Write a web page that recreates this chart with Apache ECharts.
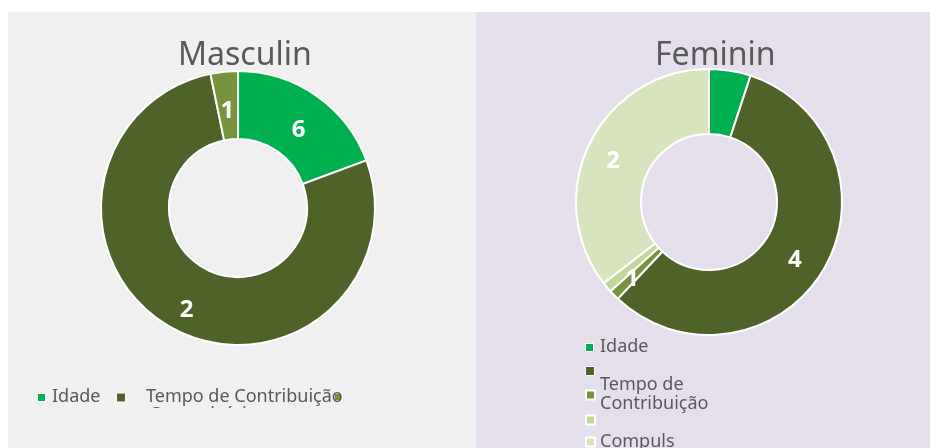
<!DOCTYPE html>
<html>
<head>
<meta charset="utf-8">
<script src="https://cdn.jsdelivr.net/npm/echarts@6/dist/echarts.min.js"></script>
<style>
  html, body { margin: 0; padding: 0; background: #fff; }
  #chart { width: 930px; height: 448px; }
</style>
</head>
<body>
<div id="chart"></div>
<script>
'use strict';

const maleCategories = ['Idade', 'Tempo de Contribuição', 'Compulsória'];
const maleValues = [6, 24, 1];
const femaleCategories = ['Idade', 'Tempo de Contribuição', 'Compulsória', 'Invalidez', 'Especial'];
const femaleValues = [4, 45, 1, 1, 28];
const sliceColors = ['#00b050', '#4f6228', '#77933c', '#c3d69b', '#d7e4bd'];

const font = 'Noto Sans';
const gray = '#595959';

function makeData(cats, vals, hideLabel) {
  return cats.map((c, i) => {
    const d = { name: c, value: vals[i], itemStyle: { color: sliceColors[i] } };
    if (hideLabel.indexOf(i) >= 0) {
      d.label = { show: false };
    }
    return d;
  });
}

function makePie(center, radius, data, offset) {
  return {
    type: 'pie',
    center: center,
    radius: radius,
    startAngle: 90,
    clockwise: true,
    animation: false,
    silent: true,
    itemStyle: { borderColor: '#fff', borderWidth: 2 },
    label: {
      show: true,
      position: 'inside',
      formatter: '{c}',
      color: '#fff',
      fontFamily: font,
      fontWeight: 'bold',
      fontSize: 24,
      width: 16,
      overflow: 'truncate',
      ellipsis: '',
      offset: offset
    },
    labelLine: { show: false },
    emphasis: { disabled: true },
    data: data
  };
}

// marker only (text kept blank, box = marker)
function legendIcon(name, left, centerY, size, border) {
  return {
    data: [name],
    left: left,
    top: centerY - size / 2,
    padding: 0,
    icon: 'rect',
    itemWidth: size,
    itemHeight: size,
    selectedMode: false,
    itemStyle: { borderColor: '#fff', borderWidth: border },
    formatter: ' ',
    textStyle: { fontSize: 1, lineHeight: size }
  };
}

// text only (invisible marker), placed where the office legend put it
function legendText(name, left, centerY, lines, opt) {
  const lg = {
    data: [name],
    left: left - 6,
    top: centerY - lines * 19 / 2,
    padding: 0,
    icon: 'rect',
    itemWidth: 1,
    itemHeight: 1,
    selectedMode: false,
    itemStyle: { opacity: 0 },
    textStyle: { fontFamily: font, fontSize: 18, color: gray, lineHeight: 19 }
  };
  if (opt && opt.text) lg.formatter = opt.text;
  if (opt && opt.width) {
    lg.textStyle.width = opt.width;
    lg.textStyle.overflow = 'truncate';
    lg.textStyle.ellipsis = '';
  }
  return lg;
}

const chart = echarts.init(document.getElementById('chart'));
chart.setOption({
  backgroundColor: '#ffffff',
  animation: false,
  graphic: [
    { type: 'rect', z: -10, silent: true, shape: { x: 8, y: 12, width: 468, height: 436 }, style: { fill: '#f0f0f0' } },
    { type: 'rect', z: -10, silent: true, shape: { x: 476, y: 12, width: 454, height: 436 }, style: { fill: '#e5dfec' } },
    { type: 'rect', z: 100, silent: true, shape: { x: 8, y: 408, width: 468, height: 40 }, style: { fill: '#f0f0f0' } }
  ],
  title: [
    { text: 'Masculin', left: 178, top: 40, padding: 0,
      textStyle: { fontFamily: font, fontSize: 32, fontWeight: 'normal', color: gray } },
    { text: 'Feminin', left: 655, top: 40, padding: 0,
      textStyle: { fontFamily: font, fontSize: 32, fontWeight: 'normal', color: gray } }
  ],
  legend: [
    // Masculin
    legendIcon('Idade', 37, 397, 8, 1),
    legendText('Idade', 51, 397, 1),
    legendIcon('Tempo de Contribuição', 116, 397, 9, 1),
    legendIcon('Compulsória', 333, 396, 8, 2),
    legendText('Tempo de Contribuição', 145, 397, 1),
    legendText('Compulsória', 148, 415, 1),
    // Feminin
    legendIcon('Idade', 585, 347, 8, 1),
    legendText('Idade', 599, 347, 1),
    legendIcon('Tempo de Contribuição', 585, 370.5, 9, 1),
    legendText('Tempo de Contribuição', 599, 394, 2, { text: 'Tempo de\nContribuição' }),
    legendIcon('Compulsória', 585, 394, 9, 2),
    legendText('Compulsória', 599, 442, 1, { width: 76 }),
    legendIcon('Invalidez', 585, 419, 9, 2),
    legendIcon('Especial', 585, 441, 9, 2)
  ],
  series: [
    makePie([238, 208], [69, 137], makeData(maleCategories, maleValues, []), [0, 9]),
    makePie([709, 202], [68, 133], makeData(femaleCategories, femaleValues, [0]), [-3, 5])
  ]
});
</script>
</body>
</html>
